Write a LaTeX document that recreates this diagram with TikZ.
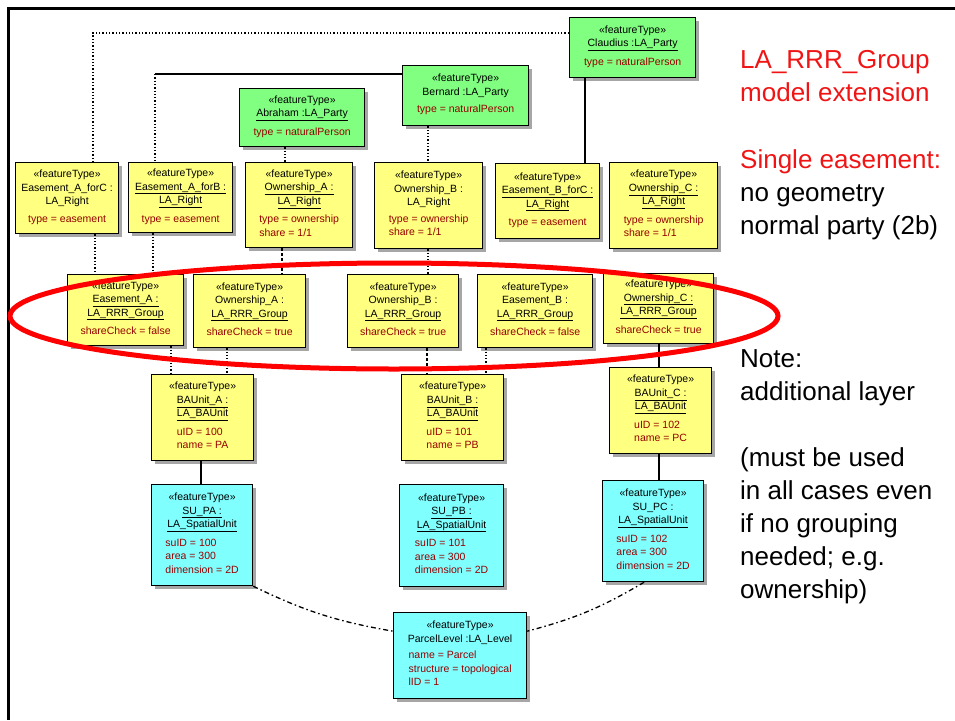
\documentclass[tikz,border=0pt]{standalone}
\usepackage{fontspec}
\setmainfont{Liberation Sans}
\usetikzlibrary{shadows}

\definecolor{partyfill}{RGB}{128,255,128}
\definecolor{rrrfill}{RGB}{255,255,128}
\definecolor{sufill}{RGB}{128,255,255}
\definecolor{attrred}{RGB}{150,0,0}
\definecolor{notered}{RGB}{240,20,20}

\newcommand{\ft}{«featureType»}
\newcommand{\attrs}[1]{{\color{attrred}\begin{tabular}{@{}l@{}}#1\end{tabular}}}

\tikzset{
    cls/.style={draw, line width=1.2pt, anchor=north west, align=center, inner sep=1pt,
        font=\fontsize{10.5}{13.5}\selectfont,
        drop shadow={shadow xshift=3pt, shadow yshift=-3pt, fill=black!35, opacity=1}},
    party/.style={cls, fill=partyfill},
    rrr/.style={cls, fill=rrrfill},
    spat/.style={cls, fill=sufill},
    sz/.style 2 args={minimum width=#1, minimum height=#2},
    plain/.style={line width=1.3pt},
    link/.style={line width=1.3pt, dotted},
    dlink/.style={line width=1.3pt, dash pattern=on 3pt off 2pt},
    ddlink/.style={line width=1.3pt, dash pattern=on 5pt off 3pt on 1.5pt off 3pt},
    % base of a multi-line note is the baseline of its last line
    note/.style={anchor=base west, align=left, inner sep=0pt, font=\fontsize{26}{33}\selectfont}
}

\begin{document}
\begin{tikzpicture}[x=1pt, y=1pt]
    \useasboundingbox (0,0) rectangle (955,-720);
    \draw[line width=3pt] (955,-8) -- (8,-8) -- (8,-720);

    % parties
    \node[party, sz={125}{58}] (abraham) at (239,-88) {\ft\\ \underline{Abraham :LA\_Party}\\[4pt] \attrs{type = naturalPerson}};
    \node[party, sz={126}{60}] (bernard) at (402,-65) {\ft\\ Bernard :LA\_Party\\[4pt] \attrs{type = naturalPerson}};
    \node[party, sz={126}{60}] (claudius) at (569,-17) {\ft\\ \underline{Claudius :LA\_Party}\\[4pt] \attrs{type = naturalPerson}};

    % rights
    \node[rrr, sz={103}{71}] (easeAC) at (15,-162) {\ft\\ Easement\_A\_forC :\\ LA\_Right\\[4pt] \attrs{type = easement}};
    \node[rrr, sz={104}{70}] (easeAB) at (128,-162) {\ft\\ \underline{Easement\_A\_forB :}\\ \underline{LA\_Right}\\[4pt] \attrs{type = easement}};
    \node[rrr, sz={107}{85}] (ownA) at (245,-162) {\ft\\ \underline{Ownership\_A :}\\ \underline{LA\_Right}\\[4pt] \attrs{type = ownership\\ share = 1/1}};
    \node[rrr, sz={108}{86}] (ownB) at (374,-162) {\ft\\ Ownership\_B :\\ LA\_Right\\[4pt] \attrs{type = ownership\\ share = 1/1}};
    \node[rrr, sz={104}{75}] (easeBC) at (495,-163) {\ft\\ \underline{Easement\_B\_forC :}\\ \underline{LA\_Right}\\[4pt] \attrs{type = easement}};
    \node[rrr, sz={108}{86}] (ownC) at (609,-162) {\ft\\ \underline{Ownership\_C :}\\ \underline{LA\_Right}\\[4pt] \attrs{type = ownership\\ share = 1/1}};

    % groups
    \node[rrr, sz={116}{71}] (grpEA) at (67,-274) {\ft\\ \underline{Easement\_A :}\\ \underline{LA\_RRR\_Group}\\[4pt] \attrs{shareCheck = false}};
    \node[rrr, sz={112}{73}] (grpOA) at (193,-274) {\ft\\ Ownership\_A :\\ \underline{LA\_RRR\_Group}\\[4pt] \attrs{shareCheck = true}};
    \node[rrr, sz={111}{73}] (grpOB) at (347,-274) {\ft\\ Ownership\_B :\\ \underline{LA\_RRR\_Group}\\[4pt] \attrs{shareCheck = true}};
    \node[rrr, sz={115}{73}] (grpEB) at (477,-274) {\ft\\ Easement\_B :\\ \underline{LA\_RRR\_Group}\\[4pt] \attrs{shareCheck = false}};
    \node[rrr, sz={110}{70}] (grpOC) at (603,-273) {\ft\\ \underline{Ownership\_C :}\\ \underline{LA\_RRR\_Group}\\[4pt] \attrs{shareCheck = true}};

    % basic administrative units
    \node[rrr, sz={102}{86}] (bauA) at (151,-374) {\ft\\ \underline{BAUnit\_A :}\\ \underline{LA\_BAUnit}\\[4pt] \attrs{uID = 100\\ name = PA}};
    \node[rrr, sz={102}{86}] (bauB) at (401,-374) {\ft\\ \underline{BAUnit\_B :}\\ \underline{LA\_BAUnit}\\[4pt] \attrs{uID = 101\\ name = PB}};
    \node[rrr, sz={102}{86}] (bauC) at (609,-367) {\ft\\ \underline{BAUnit\_C :}\\ \underline{LA\_BAUnit}\\[4pt] \attrs{uID = 102\\ name = PC}};

    % spatial units
    \node[spat, sz={101}{101}] (suA) at (151,-484) {\ft\\ \underline{SU\_PA :}\\ \underline{LA\_SpatialUnit}\\[4pt] \attrs{suID = 100\\ area = 300\\ dimension = 2D}};
    \node[spat, sz={104}{102}] (suB) at (399,-484) {\ft\\ \underline{SU\_PB :}\\ \underline{LA\_SpatialUnit}\\[4pt] \attrs{suID = 101\\ area = 300\\ dimension = 2D}};
    \node[spat, sz={101}{101}] (suC) at (602,-480) {\ft\\ SU\_PC :\\ \underline{LA\_SpatialUnit}\\[4pt] \attrs{suID = 102\\ area = 300\\ dimension = 2D}};
    \node[spat, sz={133}{86}] (parcel) at (393,-612) {\ft\\ ParcelLevel :LA\_Level\\[4pt] \attrs{name = Parcel\\ structure = topological\\ lID = 1}};

    % party -> right
    \coordinate (cnrC) at (93,-33);
    \coordinate (cnrB) at (155,-74);
    \draw[link] (claudius.west |- cnrC) -- (cnrC) -- (cnrC |- easeAC.north);
    \draw[plain] (bernard.west |- cnrB) -- (cnrB);
    \draw[link] (cnrB) -- (cnrB |- easeAB.north);
    \draw[link] (285,0 |- abraham.south) -- (285,0 |- ownA.north);
    \draw[link] (428,0 |- bernard.south) -- (428,0 |- ownB.north);
    \draw[plain] (585,0 |- claudius.south) -- (585,0 |- easeBC.north);

    % right -> group
    \draw[link] (95,0 |- easeAC.south) -- (95,0 |- grpEA.north);
    \draw[link] (153,0 |- easeAB.south) -- (153,0 |- grpEA.north);
    \draw[dlink] (282,0 |- ownA.south) -- (282,0 |- grpOA.north);
    \draw[link] (428,0 |- ownB.south) -- (428,0 |- grpOB.north);

    % group -> baunit
    \draw[link] (171,0 |- grpEA.south) -- (171,0 |- bauA.north);
    \draw[link] (227,0 |- grpOA.south) -- (227,0 |- bauA.north);
    \draw[dlink] (427,0 |- grpOB.south) -- (427,0 |- bauB.north);
    \draw[link] (486,0 |- grpEB.south) -- (486,0 |- bauB.north);
    \draw[plain] (659,0 |- grpOC.south) -- (659,0 |- bauC.north);

    % baunit -> spatial unit -> level
    \draw[plain] (201,0 |- bauA.south) -- (201,0 |- suA.north);
    \draw[plain] (659,0 |- bauC.south) -- (659,0 |- suC.north);
    \draw[ddlink] (suA.south east) to[bend right=8] (parcel.160);
    \draw[ddlink] (suC.-100) to[bend left=8] (parcel.20);

    % the new layer
    \draw[red, line width=5pt] (394,-316) ellipse [x radius=384, y radius=53];

    % notes
    \node[note, text=notered] (ext) at (740,-101) {LA\_RRR\_Group\\ model extension};
    \node[note] (ease) at (740,-234) {{\color{notered}Single easement:}\\ no geometry\\ normal party (2b)};
    \node[note] (layer) at (740,-598) {Note:\\ additional layer\\[33pt] (must be used\\ in all cases even\\ if no grouping\\ needed; e.g.\\ ownership)};
\end{tikzpicture}
\end{document}
